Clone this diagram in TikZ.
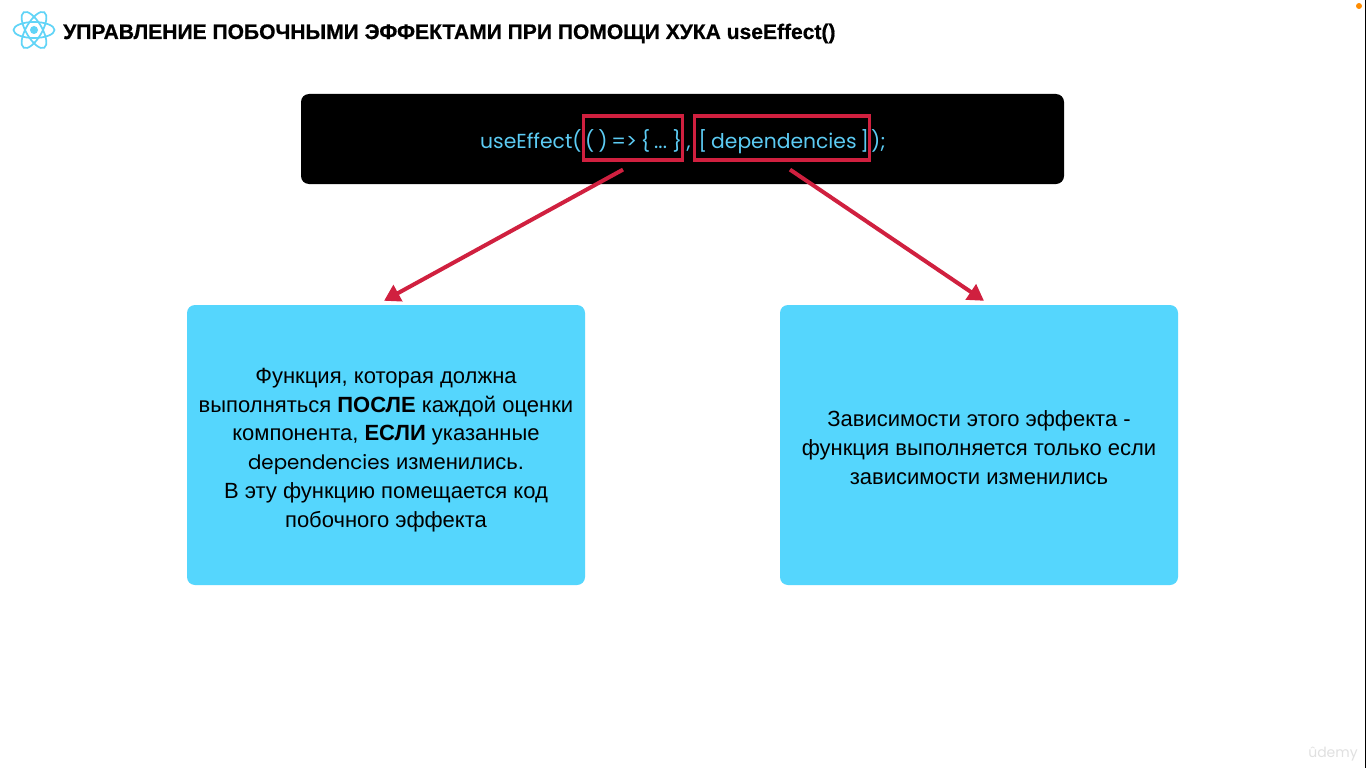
\documentclass[tikz,border=0pt]{standalone}
\usepackage{fontspec}
\setmainfont{Liberation Sans}
\newfontfamily\pop[WordSpace=0.72]{Poppins}
\newfontfamily\heavy[FakeBold=0.7]{Liberation Sans Bold}
\usetikzlibrary{arrows.meta}
\definecolor{sky}{HTML}{55D6FD}
\definecolor{codeblue}{HTML}{5CCBF3}
\definecolor{crim}{HTML}{D0203F}
\definecolor{logoblue}{HTML}{61D4F7}
\tikzset{
 x=1pt,y=-1pt,
 card/.style={fill=sky,rounded corners=8pt,minimum width=398pt,minimum height=280pt,inner sep=0pt},
 cardtext/.style={inner sep=0pt,text=black,align=center,font=\fontsize{22}{28.7}\selectfont},
 banner/.style={fill=black,rounded corners=8pt,minimum width=763pt,minimum height=90pt,inner sep=0pt},
 frame/.style={draw=crim,line width=3.2pt,inner sep=0pt,minimum height=44pt},
 code/.style={text=codeblue,inner sep=0pt,anchor=base west,font=\fontsize{20.3}{24}\selectfont\pop},
 link/.style={draw=crim,line width=4pt,-{Triangle[length=16pt,width=18pt]}},
 orbit/.style={draw=logoblue,line width=1.7pt},
}
\begin{document}
\begin{tikzpicture}
\useasboundingbox (0,0) rectangle (1366,768);
\fill[white] (0,0) rectangle (1366,768);
\fill[black] (1364.5,0) rectangle (1366,768);
\fill[orange!90!yellow] (1359,6) circle (3pt);
% logo
\draw[orbit] (34,30) ellipse [x radius=20.5pt,y radius=8pt];
\draw[orbit,rotate around={60:(34,30)}] (34,30) ellipse [x radius=20.5pt,y radius=8pt];
\draw[orbit,rotate around={-60:(34,30)}] (34,30) ellipse [x radius=20.5pt,y radius=8pt];
\fill[logoblue] (34,30) circle (4pt);
\node[anchor=base west,inner sep=0pt,font=\fontsize{21.05}{24}\selectfont\heavy] (title) at (63,39) {УПРАВЛЕНИЕ ПОБОЧНЫМИ ЭФФЕКТАМИ ПРИ ПОМОЩИ ХУКА useEffect()};
% banner
\node[banner] (bar) at (682.5,139) {};
\node[code] (c1) at (480,148) {useEffect(};
\node[code] (c2) at (585,148) {( ) => \{ ... \}};
\node[code] (c3) at (686.5,148) {,};
\node[code] (c4) at (698.5,148) {[ dependencies ]};
\node[code] (c5) at (871,148) {);};
\node[frame,minimum width=99pt] (fa) at (633,138) {};
\node[frame,minimum width=175pt] (fb) at (782,138) {};
% cards
\node[card] (left) at (386,445) {};
\node[card] (right) at (979,445) {};
\node[cardtext] (ltext) at (386,450) {Функция, которая должна\\выполняться \textbf{ПОСЛЕ} каждой оценки\\компонента, \textbf{ЕСЛИ} указанные\\{\fontsize{19.8}{28.7}\selectfont\pop dependencies} изменились.\\В эту функцию помещается код\\побочного эффекта};
\node[cardtext] (rtext) at (979,447.5) {Зависимости этого эффекта -\\функция выполняется только если\\зависимости изменились};
% connectors
\draw[link] ([xshift=-10pt,yshift=-8pt]fa.south) -- ([xshift=-2pt,yshift=4pt]left.north);
\draw[link] ([xshift=8pt,yshift=-8pt]fb.south) -- ([xshift=5pt,yshift=4pt]right.north);
% watermark
\node[anchor=base,inner sep=0pt,text=black!12,font=\fontsize{14}{16}\selectfont\pop] (wm) at (1333,757) {ûdemy};
\end{tikzpicture}
\end{document}
